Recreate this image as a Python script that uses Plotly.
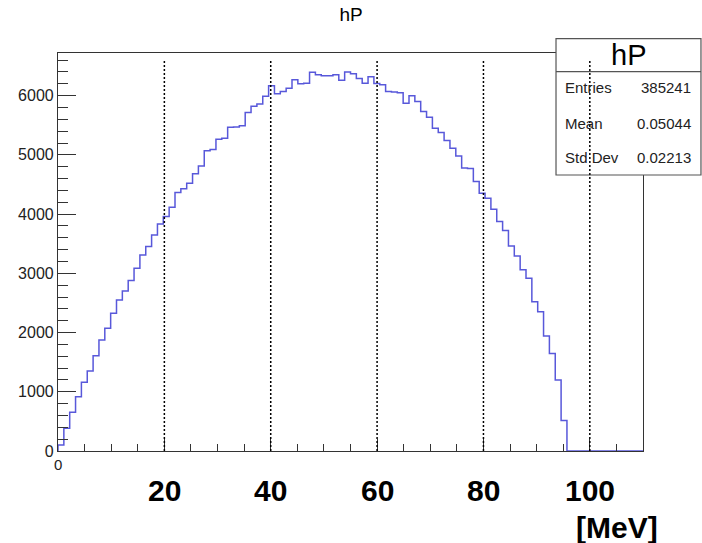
import numpy as np
import plotly.graph_objects as go

# histogram hP: 100 bins from 0 to 110 MeV
bin_width = 1.1
n_bins = 100
counts = [
    100, 383, 654, 918, 1160, 1351, 1610, 1875, 2072, 2326,
    2550, 2703, 2877, 3086, 3311, 3451, 3649, 3834, 3958, 4116,
    4363, 4430, 4521, 4680, 4810, 5070, 5090, 5265, 5282, 5465,
    5470, 5490, 5715, 5820, 5860, 5990, 6166, 6030, 6070, 6126,
    6267, 6199, 6210, 6397, 6351, 6334, 6334, 6351, 6260, 6400,
    6368, 6290, 6210, 6320, 6205, 6185, 6070, 6060, 6050, 5873,
    5997, 5901, 5732, 5636, 5450, 5377, 5242, 5113, 4983, 4780,
    4770, 4549, 4353, 4268, 4083, 3874, 3722, 3463, 3294, 3060,
    2917, 2522, 2353, 1943, 1645, 1199, 515, 0, 0, 0,
    0, 0, 0, 0, 0, 0, 0, 0, 0, 0,
]

x_labels = [20, 40, 60, 80, 100]
stats_names = ["Entries", "Mean", "Std Dev"]
stats_values = ["385241", "0.05044", "0.02213"]

edges = np.arange(n_bins + 1) * bin_width
x_step = np.concatenate([[0.0], edges])
y_step = np.concatenate([[0.0], counts, [0.0]])
y_max = 1.05 * max(counts)

FONT = "Liberation Sans, Arial, Helvetica, sans-serif"

trace = go.Scatter(
    x=x_step,
    y=y_step,
    mode="lines",
    line=dict(shape="hv", color="rgb(88,88,218)", width=1.5),
    hoverinfo="skip",
    showlegend=False,
)

shapes = []
# stats box
shapes.append(dict(type="rect", xref="paper", yref="paper",
                   x0=0.8513, x1=1.0991, y0=0.6935, y1=1.0359,
                   line=dict(color="#555555", width=1.2),
                   fillcolor="white", layer="above"))
shapes.append(dict(type="line", xref="paper", yref="paper",
                   x0=0.8513, x1=1.0991, y0=0.953, y1=0.953,
                   line=dict(color="#555555", width=1.2), layer="above"))
# dotted markers
for v in x_labels:
    shapes.append(dict(type="line", xref="x", yref="paper",
                       x0=v, x1=v, y0=0, y1=0.985,
                       line=dict(color="black", width=1.5, dash="2px,2px"),
                       layer="above"))

annotations = []
for v in x_labels:
    annotations.append(dict(x=v, y=0, xref="x", yref="paper",
                            text="<b>%d</b>" % v, showarrow=False,
                            xanchor="center", yanchor="middle", yshift=-39,
                            font=dict(family=FONT, size=30, color="black")))
annotations.append(dict(x=0.9556, y=0, xref="paper", yref="paper",
                        text="<b>[MeV]</b>", showarrow=False,
                        xanchor="center", yanchor="middle", yshift=-76,
                        font=dict(family=FONT, size=30, color="black")))
annotations.append(dict(x=0, y=0, xref="x", yref="paper", text="0",
                        showarrow=False, xanchor="center", yanchor="top",
                        yshift=-3,
                        font=dict(family=FONT, size=15, color="#222222")))
annotations.append(dict(x=0.9744, y=0.995, xref="paper", yref="paper",
                        text="hP", showarrow=False, xanchor="center",
                        yanchor="middle",
                        font=dict(family=FONT, size=29, color="black")))
for name, val, yy in zip(stats_names, stats_values, [0.9121, 0.8241, 0.7362]):
    annotations.append(dict(x=0.8632, y=yy, xref="paper", yref="paper",
                            text=name, showarrow=False, xanchor="left",
                            yanchor="middle",
                            font=dict(family=FONT, size=15, color="#222222")))
    annotations.append(dict(x=1.0855, y=yy, xref="paper", yref="paper",
                            text=val, showarrow=False, xanchor="right",
                            yanchor="middle",
                            font=dict(family=FONT, size=15, color="#222222")))

layout = go.Layout(
    width=702,
    height=543,
    margin=dict(l=58, r=59, t=53, b=92),
    paper_bgcolor="white",
    plot_bgcolor="white",
    title=dict(text="hP", x=0.5, xanchor="center", y=1 - 14 / 543,
               yanchor="middle",
               font=dict(family=FONT, size=19, color="black")),
    xaxis=dict(
        range=[0, 110],
        showgrid=False,
        zeroline=False,
        showline=True,
        linecolor="#333333",
        linewidth=1.2,
        mirror=True,
        ticks="inside",
        tick0=0,
        dtick=20,
        ticklen=12,
        tickcolor="#333333",
        showticklabels=False,
        minor=dict(dtick=5, tick0=0, ticks="inside", ticklen=7,
                   tickcolor="#333333"),
    ),
    yaxis=dict(
        range=[0, y_max],
        showgrid=False,
        zeroline=False,
        showline=True,
        linecolor="#333333",
        linewidth=1.2,
        mirror=True,
        ticks="inside",
        tick0=0,
        dtick=1000,
        ticklen=18,
        tickcolor="#333333",
        tickfont=dict(family=FONT, size=16, color="#222222"),
        minor=dict(dtick=200, tick0=0, ticks="inside", ticklen=10,
                   tickcolor="#333333"),
    ),
    shapes=shapes,
    annotations=annotations,
)

fig = go.Figure(data=[trace], layout=layout)
# page body has an 8px default margin; drop it so the figure sits at 0,0
fig.write_html("out.html", config={"displayModeBar": False},
               post_script="document.body.style.margin='0';")
